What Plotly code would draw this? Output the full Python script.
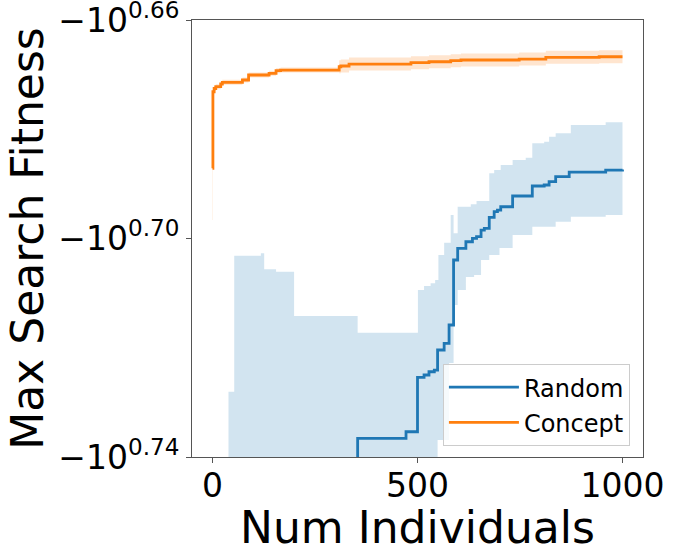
import plotly.graph_objects as go

# Random search: mean curve and band (fitness values, negative)
random_x = [0, 354, 472, 500, 516, 528, 541, 549, 565, 577, 588, 598, 618, 634, 644,
            655, 663, 675, 687, 695, 703, 732, 780, 809, 821, 837, 870, 959, 1000]
random_mean = [-5.8, -5.4523, -5.4372, -5.3139, -5.3087, -5.3014, -5.2976, -5.2531,
               -5.2383, -5.1980, -5.0575, -5.0327, -5.0187, -5.0115, -5.0081, -4.9940,
               -4.9904, -4.9673, -4.9556, -4.9521, -4.9452, -4.9229, -4.9022, -4.9001,
               -4.8933, -4.8830, -4.8734, -4.8693, -4.8682]

random_hi_x = [0, 39, 53, 118, 126, 155, 199, 354, 501, 516, 532, 543, 551, 565, 581,
               588, 598, 630, 644, 675, 687, 703, 732, 764, 780, 809, 821, 837, 874, 959, 1000]
random_hi = [-5.8, -5.3463, -5.0484, -5.0433, -5.0774, -5.0825, -5.1784, -5.2149,
             -5.1219, -5.1133, -5.1075, -5.1004, -5.0469, -5.0208, -4.9625, -5.0009,
             -4.9452, -4.9402, -4.9333, -4.8760, -4.8693, -4.8590, -4.8488, -4.8441,
             -4.8148, -4.8115, -4.8014, -4.7945, -4.7778, -4.7723, -4.7723]

random_lo_x = [0, 549, 577, 588, 598, 618, 638, 655, 675, 700, 732, 780, 837, 874, 959, 1000]
random_lo = [-5.8, -5.4562, -5.2820, -5.1544, -5.1219, -5.0939, -5.0896, -5.0575,
             -5.0469, -5.0320, -5.0045, -4.9870, -4.9765, -4.9661, -4.9625, -4.9625]

# Concept search
concept_x = [0, 1, 4, 8, 20, 24, 73, 88, 138, 155, 166, 309, 313, 333, 484, 528, 581,
             606, 748, 813, 943, 1000]
concept_mean = [-4.8658, -4.7112, -4.7048, -4.7012, -4.6959, -4.6925, -4.6880, -4.6781,
                -4.6748, -4.6696, -4.6683, -4.6618, -4.6604, -4.6565, -4.6539, -4.6520,
                -4.6500, -4.6486, -4.6467, -4.6433, -4.6422, -4.6422]
concept_lo = [-4.973, -4.7162, -4.7098, -4.7062, -4.7009, -4.6975, -4.6930, -4.6831,
              -4.6798, -4.6746, -4.6733, -4.6746, -4.6732, -4.6693, -4.6667, -4.6648,
              -4.6628, -4.6614, -4.6595, -4.6561, -4.6550, -4.6550]
concept_hi = [-4.759, -4.7062, -4.6998, -4.6962, -4.6909, -4.6875, -4.6830, -4.6731,
              -4.6698, -4.6646, -4.6633, -4.6490, -4.6476, -4.6437, -4.6411, -4.6392,
              -4.6372, -4.6358, -4.6339, -4.6305, -4.6294, -4.6294]

x_ticks = [0, 500, 1000]
y_tick_exps = ["0.66", "0.70", "0.74"]

BLUE = "#1f77b4"
ORANGE = "#ff7f0e"
FONT = "DejaVu Sans"


def neg(v):
    return [-a for a in v]


fig = go.Figure()

fig.add_trace(go.Scatter(x=random_hi_x, y=neg(random_hi), mode="lines", legendgroup="r",
                         line=dict(width=0, shape="hv"), showlegend=False, hoverinfo="skip"))
fig.add_trace(go.Scatter(x=random_lo_x, y=neg(random_lo), mode="lines", legendgroup="r",
                         line=dict(width=0, shape="hv"), fill="tonexty",
                         fillcolor="rgba(31,119,180,0.2)", showlegend=False, hoverinfo="skip"))
fig.add_trace(go.Scatter(x=random_x, y=neg(random_mean), mode="lines", name="Random",
                         legendgroup="r", line=dict(color=BLUE, width=2.8, shape="hv")))

fig.add_trace(go.Scatter(x=concept_x, y=neg(concept_hi), mode="lines", legendgroup="c",
                         line=dict(width=0, shape="hv"), showlegend=False, hoverinfo="skip"))
fig.add_trace(go.Scatter(x=concept_x, y=neg(concept_lo), mode="lines", legendgroup="c",
                         line=dict(width=0, shape="hv"), fill="tonexty",
                         fillcolor="rgba(255,127,14,0.2)", showlegend=False, hoverinfo="skip"))
fig.add_trace(go.Scatter(x=concept_x, y=neg(concept_mean), mode="lines", name="Concept",
                         legendgroup="c", line=dict(color=ORANGE, width=2.8, shape="hv")))

axis_common = dict(showline=True, linecolor="#555555", linewidth=1, mirror=True,
                   ticks="outside", ticklen=5, tickcolor="#555555", showgrid=False,
                   zeroline=False, automargin=False, ticklabeloverflow="allow",
                   tickfont=dict(family=FONT, size=33, color="black"))

fig.update_xaxes(range=[-50, 1050], tickvals=x_ticks, ticktext=[str(t) for t in x_ticks],
                 ticklabelstandoff=-6,
                 title=dict(text="Num Individuals", font=dict(family=FONT, size=44, color="black"),
                            standoff=0),
                 **axis_common)
fig.update_yaxes(type="log", range=[0.7400005, 0.6599995],
                 tickvals=[10 ** float(e) for e in y_tick_exps],
                 ticktext=["\u221210<sup>%s</sup>" % e for e in y_tick_exps],
                 title=dict(text="Max Search Fitness", font=dict(family=FONT, size=44, color="black"),
                            standoff=0),
                 **axis_common)

fig.update_layout(
    width=675, height=553,
    margin=dict(l=192, r=32, t=20, b=96),
    plot_bgcolor="white", paper_bgcolor="white",
    font=dict(family=FONT, color="black"),
    legend=dict(x=0.971, y=0.025, xanchor="right", yanchor="bottom",
                traceorder="grouped", tracegroupgap=1, itemwidth=70,
                bgcolor="rgba(255,255,255,0.8)", bordercolor="#cccccc", borderwidth=1,
                font=dict(family=FONT, size=24, color="black")),
)

fig.write_html("out.html", config={"displayModeBar": False},
               post_script="document.body.style.margin='0';")
